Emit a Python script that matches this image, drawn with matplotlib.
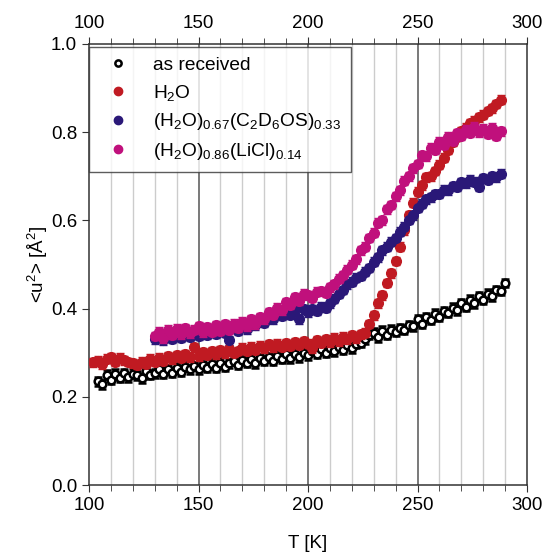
import numpy as np
import matplotlib
matplotlib.use("Agg")
import matplotlib.pyplot as plt
from matplotlib.ticker import MultipleLocator, FormatStrFormatter
from matplotlib.lines import Line2D

plt.rcParams["font.family"] = ["Liberation Sans", "DejaVu Sans"]
plt.rcParams["mathtext.default"] = "regular"

# as received (open black circles)
t_dry = [104, 106, 108, 110, 112, 114, 116, 118, 120, 122, 124, 126, 128, 130, 132, 134,
         136, 138, 140, 142, 144, 146, 148, 150, 152, 154, 156, 158, 160, 162, 164, 166,
         168, 170, 172, 174, 176, 178, 180, 182, 184, 186, 188, 190, 192, 194, 196, 198,
         200, 202, 204, 206, 208, 210, 212, 214, 216, 218, 220, 222, 224, 226, 228, 230,
         232, 234, 236, 238, 240, 242, 244, 246, 248, 250, 252, 254, 256, 258, 260, 262,
         264, 266, 268, 270, 272, 274, 276, 278, 280, 282, 284, 286, 288, 290]
u_dry = [0.235, 0.228, 0.250, 0.238, 0.252, 0.243, 0.254, 0.244, 0.252, 0.249, 0.242, 0.258,
         0.250, 0.253, 0.264, 0.252, 0.262, 0.255, 0.266, 0.257, 0.268, 0.262, 0.270, 0.262,
         0.272, 0.266, 0.275, 0.266, 0.277, 0.268, 0.276, 0.281, 0.272, 0.283, 0.277, 0.286,
         0.276, 0.287, 0.282, 0.290, 0.282, 0.292, 0.286, 0.296, 0.287, 0.298, 0.290, 0.300,
         0.294, 0.304, 0.298, 0.308, 0.300, 0.311, 0.303, 0.314, 0.307, 0.318, 0.310, 0.320,
         0.322, 0.330, 0.340, 0.345, 0.335, 0.350, 0.340, 0.352, 0.348, 0.356, 0.352, 0.362,
         0.360, 0.376, 0.366, 0.380, 0.374, 0.388, 0.382, 0.394, 0.390, 0.402, 0.396, 0.412,
         0.404, 0.420, 0.412, 0.428, 0.420, 0.434, 0.428, 0.442, 0.440, 0.458]

# H2O (red)
t_h2o = [102, 104, 106, 108, 110, 112, 114, 116, 118, 120, 122, 124, 126, 128, 130, 132,
         134, 136, 138, 140, 142, 144, 146, 148, 150, 152, 154, 156, 158, 160, 162, 164,
         166, 168, 170, 172, 174, 176, 178, 180, 182, 184, 186, 188, 190, 192, 194, 196,
         198, 200, 202, 204, 206, 208, 210, 212, 214, 216, 218, 220, 222, 224, 226, 228,
         230, 232, 234, 236, 238, 240, 242, 244, 246, 248, 250, 252, 254, 256, 258, 260,
         262, 264, 266, 268, 270, 272, 274, 276, 278, 280, 282, 284, 286, 288]
u_h2o = [0.278, 0.282, 0.274, 0.286, 0.290, 0.280, 0.289, 0.283, 0.279, 0.276, 0.273, 0.280,
         0.275, 0.286, 0.280, 0.289, 0.282, 0.292, 0.285, 0.294, 0.288, 0.297, 0.290, 0.312,
         0.292, 0.301, 0.295, 0.303, 0.296, 0.305, 0.299, 0.308, 0.300, 0.304, 0.311, 0.304,
         0.314, 0.307, 0.316, 0.310, 0.319, 0.312, 0.320, 0.313, 0.322, 0.315, 0.324, 0.318,
         0.326, 0.320, 0.310, 0.328, 0.322, 0.330, 0.324, 0.334, 0.326, 0.336, 0.330, 0.340,
         0.333, 0.342, 0.345, 0.365, 0.385, 0.412, 0.430, 0.458, 0.480, 0.508, 0.540, 0.578,
         0.612, 0.640, 0.665, 0.680, 0.698, 0.700, 0.712, 0.726, 0.742, 0.760, 0.778, 0.790,
         0.802, 0.810, 0.820, 0.826, 0.834, 0.840, 0.848, 0.854, 0.864, 0.874]

# (H2O)0.67(C2D6OS)0.33 (blue)
t_dmso = [130, 132, 134, 136, 138, 140, 142, 144, 146, 148, 150, 152, 154, 156, 158, 160,
          162, 164, 166, 168, 170, 172, 174, 176, 178, 180, 182, 184, 186, 188, 190, 192,
          194, 196, 198, 200, 202, 204, 206, 208, 210, 212, 214, 216, 218, 220, 222, 224,
          226, 228, 230, 232, 234, 236, 238, 240, 242, 244, 246, 248, 250, 252, 254, 256,
          258, 260, 262, 264, 266, 268, 270, 272, 274, 276, 278, 280, 282, 284, 286, 288]
u_dmso = [0.330, 0.336, 0.328, 0.340, 0.332, 0.342, 0.334, 0.344, 0.336, 0.346, 0.338, 0.348,
          0.341, 0.350, 0.343, 0.352, 0.345, 0.328, 0.357, 0.350, 0.361, 0.353, 0.365, 0.362,
          0.370, 0.368, 0.378, 0.376, 0.388, 0.384, 0.392, 0.386, 0.396, 0.376, 0.398, 0.392,
          0.398, 0.395, 0.404, 0.402, 0.412, 0.422, 0.434, 0.442, 0.455, 0.461, 0.470, 0.474,
          0.484, 0.492, 0.506, 0.516, 0.532, 0.540, 0.552, 0.560, 0.574, 0.586, 0.602, 0.612,
          0.628, 0.638, 0.648, 0.652, 0.660, 0.660, 0.670, 0.668, 0.678, 0.676, 0.686, 0.684,
          0.692, 0.688, 0.676, 0.696, 0.692, 0.700, 0.698, 0.706]

# (H2O)0.86(LiCl)0.14 (magenta)
t_licl = [130, 132, 134, 136, 138, 140, 142, 144, 146, 148, 150, 152, 154, 156, 158, 160,
          162, 164, 166, 168, 170, 172, 174, 176, 178, 180, 182, 184, 186, 188, 190, 192,
          194, 196, 198, 200, 202, 204, 206, 208, 210, 212, 214, 216, 218, 220, 222, 224,
          226, 228, 230, 232, 234, 236, 238, 240, 242, 244, 246, 248, 250, 252, 254, 256,
          258, 260, 262, 264, 266, 268, 270, 272, 274, 276, 278, 280, 282, 284, 286, 288]
u_licl = [0.338, 0.348, 0.333, 0.352, 0.340, 0.354, 0.342, 0.355, 0.344, 0.352, 0.360, 0.346,
          0.358, 0.348, 0.362, 0.350, 0.364, 0.352, 0.366, 0.356, 0.370, 0.360, 0.376, 0.364,
          0.380, 0.376, 0.392, 0.386, 0.402, 0.396, 0.414, 0.408, 0.426, 0.418, 0.434, 0.430,
          0.424, 0.438, 0.440, 0.436, 0.448, 0.455, 0.468, 0.476, 0.488, 0.500, 0.512, 0.532,
          0.540, 0.560, 0.572, 0.595, 0.600, 0.625, 0.635, 0.655, 0.668, 0.690, 0.700, 0.718,
          0.728, 0.748, 0.745, 0.765, 0.760, 0.778, 0.772, 0.790, 0.780, 0.798, 0.792, 0.806,
          0.798, 0.812, 0.800, 0.808, 0.796, 0.810, 0.792, 0.802]

labels = ["as received",
          r"H$_2$O",
          r"(H$_2$O)$_{0.67}$(C$_2$D$_6$OS)$_{0.33}$",
          r"(H$_2$O)$_{0.86}$(LiCl)$_{0.14}$"]
colors = ["black", "#c01a22", "#2a1878", "#c0107c"]
err = 0.01

fig = plt.figure(figsize=(5.43, 5.54), dpi=100)
ax = fig.add_axes([89 / 543, 1 - 485 / 554, 438 / 543, 441 / 554])

# vertical grid lines
for t in range(110, 300, 10):
    if t % 50 == 0:
        ax.axvline(t, color="#555555", lw=1.1, zorder=0)
    else:
        ax.axvline(t, color="#cccccc", lw=1.0, zorder=0)

ax.errorbar(t_dry, u_dry, yerr=err, fmt="o", ms=5.5, mfc="white", mec="black", mew=1.8,
            ecolor="black", elinewidth=1, capsize=3, zorder=2)
ax.errorbar(t_h2o, u_h2o, yerr=err, fmt="o", ms=7, color=colors[1],
            elinewidth=1, capsize=3, zorder=3)
ax.errorbar(t_dmso, u_dmso, yerr=err, fmt="o", ms=7, color=colors[2],
            elinewidth=1, capsize=3, zorder=3)
ax.errorbar(t_licl, u_licl, yerr=err, fmt="o", ms=7, color=colors[3],
            elinewidth=1, capsize=3, zorder=4)

ax.set_xlim(100, 300)
ax.set_ylim(0, 1.0)
ax.xaxis.set_major_locator(MultipleLocator(50))
ax.xaxis.set_minor_locator(MultipleLocator(10))
ax.yaxis.set_major_locator(MultipleLocator(0.2))
ax.yaxis.set_major_formatter(FormatStrFormatter("%.1f"))
ax.tick_params(axis="x", which="both", direction="out", top=True, labeltop=True,
               labelsize=13.5, color="#333333")
ax.tick_params(axis="x", which="major", length=5)
ax.tick_params(axis="x", which="minor", length=4)
ax.tick_params(axis="y", which="major", direction="out", length=5, labelsize=13.5,
               right=False, color="#333333")
for s in ax.spines.values():
    s.set_color("#333333")
    s.set_linewidth(1.1)

ax.set_xlabel("T [K]", fontsize=13.5, labelpad=15)
ax.set_ylabel(r"<u$^2$> [Å$^2$]", fontsize=13.5)
ax.yaxis.set_label_coords(-0.09, 0.5)

handles = [Line2D([], [], ls="none", marker="o", ms=4.5, mfc="white", mec="black", mew=1.8)]
for c in colors[1:]:
    handles.append(Line2D([], [], ls="none", marker="o", ms=6, color=c))
leg = ax.legend(handles, labels, loc="upper left", bbox_to_anchor=(0.0, 0.993),
                borderaxespad=0, fontsize=13.8, frameon=True, fancybox=False,
                edgecolor="#333333", handlelength=2.0, handletextpad=0.85,
                labelspacing=0.45, borderpad=0.5)
leg.get_frame().set_linewidth(1.0)

fig.savefig("out.png", dpi=100)
